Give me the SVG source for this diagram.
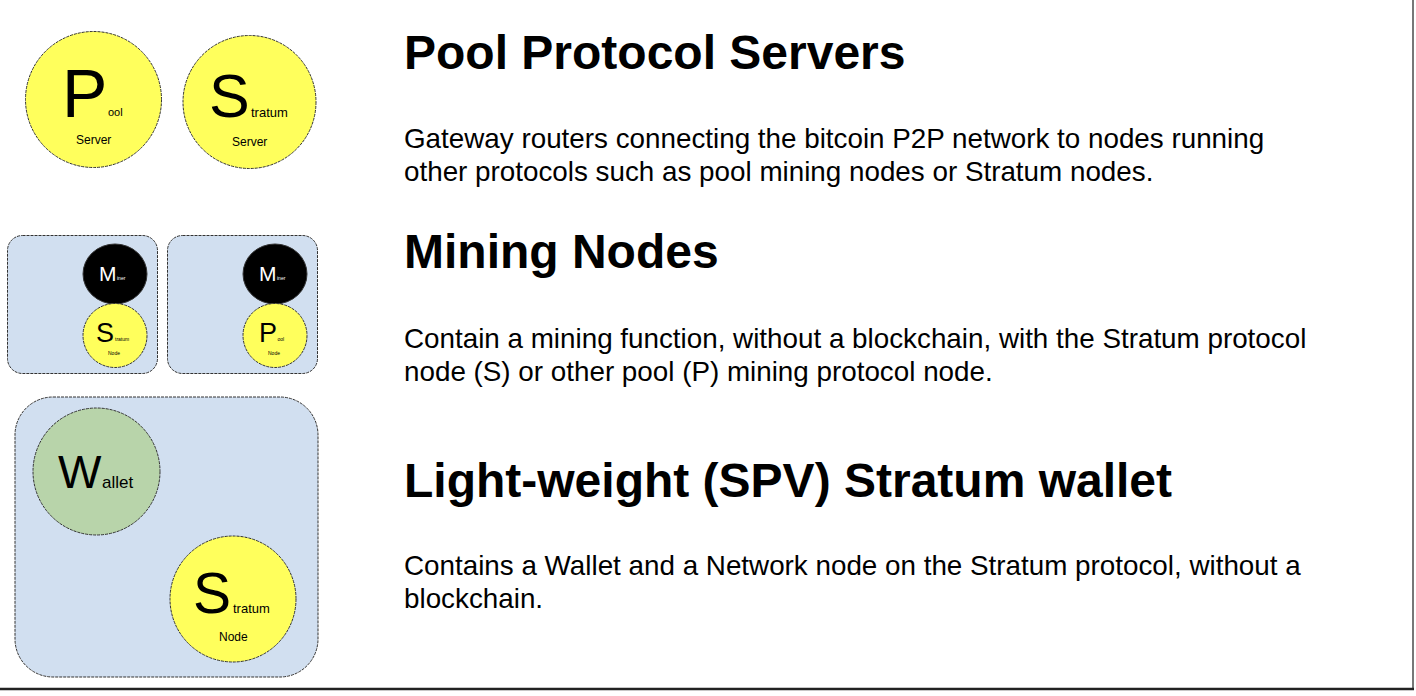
<svg xmlns="http://www.w3.org/2000/svg" width="1416" height="696" viewBox="0 0 1416 696">
<style>
.bg{fill:#ffffff}
.yel{fill:#ffff5c;stroke:#333;stroke-width:1;stroke-dasharray:3 1}
.blk{fill:#000;stroke:#333;stroke-width:1}
.grn{fill:#b8d4aa;stroke:#333;stroke-width:1;stroke-dasharray:3 1}
.box{fill:#d1dff0;stroke:#333;stroke-width:1;stroke-dasharray:3 1}
text{font-family:"Liberation Sans",Arial,sans-serif;fill:#000}
.w{fill:#fff}
.h{font-weight:bold;font-size:48px}
.b{font-size:27.8px}
</style>
<rect class="bg" x="0" y="0" width="1416" height="696"/>
<line x1="1413" y1="0" x2="1413" y2="689" stroke="#777" stroke-width="2"/>
<line x1="0" y1="689" x2="1414" y2="689" stroke="#222" stroke-width="2.5"/>

<g id="pool-server">
<circle class="yel" cx="93.5" cy="99.5" r="68"/>
<text x="62" y="117" font-size="68">P</text>
<text x="108" y="116" font-size="11">ool</text>
<text x="76" y="144" font-size="12">Server</text>
</g>
<g id="stratum-server">
<circle class="yel" cx="249.5" cy="102" r="66.5"/>
<text x="209" y="117" font-size="61">S</text>
<text x="251" y="117" font-size="13">tratum</text>
<text x="232" y="146" font-size="12">Server</text>
</g>

<g id="mining-node-stratum">
<rect class="box" x="7.5" y="235.5" width="150" height="138" rx="15"/>
<ellipse class="blk" cx="115" cy="274" rx="32" ry="30"/>
<text class="w" x="99" y="281" font-size="21">M</text>
<text class="w" x="117" y="280" font-size="5">iner</text>
<circle class="yel" cx="115" cy="335.5" r="32"/>
<text x="96" y="342" font-size="27">S</text>
<text x="115" y="341" font-size="5">tratum</text>
<text x="108" y="355" font-size="5">Node</text>
</g>
<g id="mining-node-pool">
<rect class="box" x="167.5" y="235.5" width="150" height="138" rx="15"/>
<ellipse class="blk" cx="275" cy="274" rx="32" ry="30"/>
<text class="w" x="259" y="281" font-size="21">M</text>
<text class="w" x="277" y="280" font-size="5">iner</text>
<circle class="yel" cx="275" cy="335.5" r="32"/>
<text x="259" y="342" font-size="27">P</text>
<text x="277.5" y="341" font-size="5">ool</text>
<text x="268" y="355" font-size="5">Node</text>
</g>

<g id="spv-wallet">
<rect class="box" x="15" y="397" width="303" height="280" rx="38"/>
<circle class="grn" cx="96.5" cy="471.5" r="63.5"/>
<text x="58" y="488" font-size="46">W</text>
<text x="102" y="488" font-size="17">allet</text>
<circle class="yel" cx="233" cy="599" r="63"/>
<text x="193" y="613" font-size="57">S</text>
<text x="233" y="613" font-size="13">tratum</text>
<text x="219" y="641" font-size="12">Node</text>
</g>

<g id="connectors"></g>

<g id="descriptions">
<text class="h" x="404" y="69">Pool Protocol Servers</text>
<text class="b" x="404" y="148">Gateway routers connecting the bitcoin P2P network to nodes running</text>
<text class="b" x="404" y="181">other protocols such as pool mining nodes or Stratum nodes.</text>
<text class="h" x="404" y="268">Mining Nodes</text>
<text class="b" x="404" y="348">Contain a mining function, without a blockchain, with the Stratum protocol</text>
<text class="b" x="404" y="381">node (S) or other pool (P) mining protocol node.</text>
<text class="h" x="404" y="497">Light-weight (SPV) Stratum wallet</text>
<text class="b" x="404" y="575">Contains a Wallet and a Network node on the Stratum protocol, without a</text>
<text class="b" x="404" y="608">blockchain.</text>
</g>
</svg>
